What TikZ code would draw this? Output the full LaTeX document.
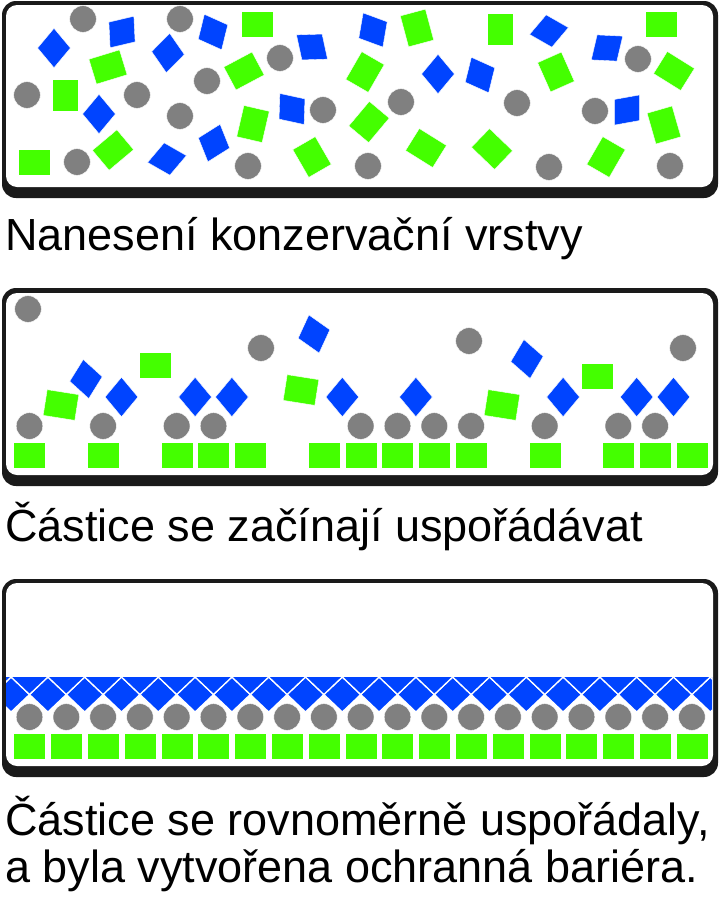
\documentclass[tikz,border=0pt]{standalone}
\usepackage{fontspec}
\setmainfont{Liberation Sans}
\usetikzlibrary{positioning}
\definecolor{chipblue}{HTML}{0044FF}
\definecolor{flakegreen}{HTML}{44FF00}
\definecolor{graingray}{HTML}{808080}
\definecolor{framegray}{HTML}{1A1A1A}
\tikzset{
  grain/.style={fill=graingray, draw=white, line width=0.4pt},
  flake/.style={fill=flakegreen, draw=white, line width=0.4pt},
  chip/.style={fill=chipblue, draw=white, line width=0.4pt},
  tile/.style={fill=chipblue, draw=white, line width=1.3pt},
  frame/.style={fill=framegray, rounded corners=14pt},
  inner/.style={fill=white, rounded corners=11pt},
  caption/.style={anchor=base west, inner sep=0pt, font=\fontsize{45}{46}\selectfont}
}
\newcommand{\grainat}[2]{\filldraw[grain] (#1,#2) circle (13.3);}
\newcommand{\flakeat}[3]{\filldraw[flake, shift={(#1,#2)}, rotate=#3] (-16,-13) rectangle (16,13);}
\newcommand{\chipat}[3]{\filldraw[chip, shift={(#1,#2)}, rotate=#3] (0,-19.7) -- (16.4,0) -- (0,19.7) -- (-16.4,0) -- cycle;}
\begin{document}
\begin{tikzpicture}[x=1pt, y=-1pt]
\useasboundingbox (0,0) rectangle (721,900);

% Mixed coating
\fill[frame] (2,1) rectangle (718,198);
\fill[inner] (6,5) rectangle (713,187);
\foreach \x/\y in {83/19, 180/19, 27/95, 137/95, 207/81, 280/58, 180/116, 323/110, 77/162, 248/166,
  401/102, 517/103, 595/111, 638/59, 368/166, 549/167, 670/166}
  \grainat{\x}{\y};
\foreach \x/\y/\r in {257/24/0, 108/67/17, 65/95/90, 244/71/28, 253/124/77, 34/162/0, 113/150/40, 312/157/120,
  417/28/105, 500/29/90, 661/24/0, 674/71/-32, 365/72/60, 556/72/114, 664/125/106, 369/122/50,
  426/148/-32, 492/149/-44, 606/157/60}
  \flakeat{\x}{\y}{\r};
\foreach \x/\y/\r in {54/48/0, 122/32/-37, 168/53/-5, 213/32/26, 312/47/52, 99/114/0, 292/109/38, 167/159/100,
  214/143/-18, 373/30/30, 438/74/0, 480/75/26, 549/31/100, 607/48/-53, 627/110/-40}
  \chipat{\x}{\y}{\r};
\node[caption] (cap1) at (5,250) {Nanesení konzervační vrstvy};

% Partial ordering
\fill[frame] (2,288) rectangle (718,486);
\fill[inner] (6,293) rectangle (713,475);
\foreach \k in {0,2,4,5,6,8,9,10,11,12,14,16,17,18}
  \flakeat{29.5+36.8*\k}{455}{0};
\foreach \k in {0,2,4,5,9,10,11,12,14,16,17}
  \grainat{29.5+36.8*\k}{426};
\foreach \k in {2.5,4.5,5.5,8.5,10.5,14.5,16.5,17.5}
  \chipat{29.5+36.8*\k}{397}{0};
\foreach \x/\y in {28/309, 261/348, 469/341, 683/348}
  \grainat{\x}{\y};
\foreach \x/\y/\r in {155/365/0, 61/405/-9, 301/390/-9, 597/376/0, 502/405/-9}
  \flakeat{\x}{\y}{\r};
\foreach \x/\y/\r in {314/334/15, 86/379/8, 527/359/9}
  \chipat{\x}{\y}{\r};
\node[caption] (cap2) at (5,541) {Částice se začínají uspořádávat};

% Full barrier
\fill[frame] (2,579) rectangle (718,777);
\fill[inner] (6,583) rectangle (713,766);
\foreach \k in {0,...,18} {
  \flakeat{29.5+36.8*\k}{746}{0}
  \grainat{29.5+36.8*\k}{717}
}
\begin{scope}
  \clip (6,677) rectangle (712,720);
  \foreach \k in {-1,...,19} {
    \filldraw[tile] (29.5+36.8*\k+18.4,677) -- ++(18.4,17.5) -- ++(-18.4,17.5) -- ++(-18.4,-17.5) -- cycle;
    \filldraw[tile] (29.5+36.8*\k,659.5) -- ++(18.4,17.5) -- ++(-18.4,17.5) -- ++(-18.4,-17.5) -- cycle;
  }
\end{scope}
\node[caption] (cap3) at (5,835) {Částice se rovnoměrně uspořádaly,};
\node[caption] (cap4) at (5,882) {a byla vytvořena ochranná bariéra.};
\end{tikzpicture}
\end{document}
